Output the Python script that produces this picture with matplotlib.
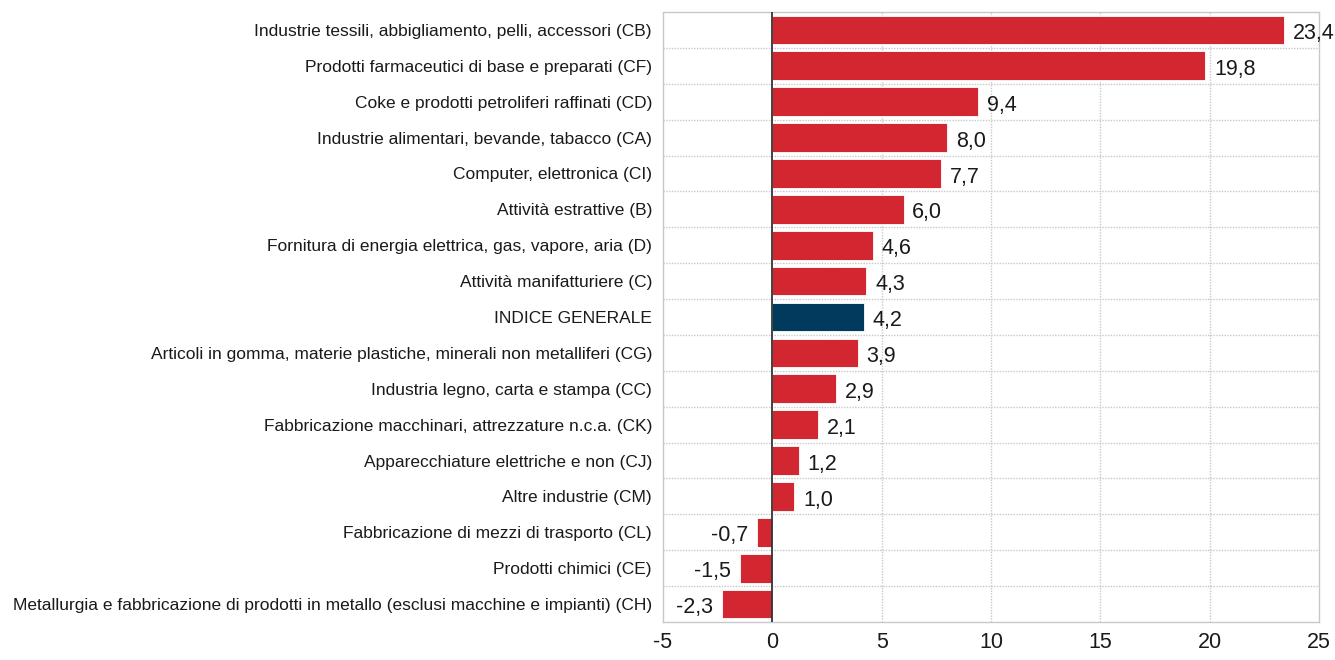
import matplotlib
matplotlib.use("Agg")
import matplotlib.pyplot as plt
from matplotlib import font_manager

categories = [
    "Industrie tessili, abbigliamento, pelli, accessori (CB)",
    "Prodotti farmaceutici di base e preparati (CF)",
    "Coke e prodotti petroliferi raffinati (CD)",
    "Industrie alimentari, bevande, tabacco (CA)",
    "Computer, elettronica (CI)",
    "Attività estrattive (B)",
    "Fornitura di energia elettrica, gas, vapore, aria (D)",
    "Attività manifatturiere (C)",
    "INDICE GENERALE",
    "Articoli in gomma, materie plastiche, minerali non metalliferi (CG)",
    "Industria legno, carta e stampa (CC)",
    "Fabbricazione macchinari, attrezzature n.c.a. (CK)",
    "Apparecchiature elettriche e non (CJ)",
    "Altre industrie (CM)",
    "Fabbricazione di mezzi di trasporto (CL)",
    "Prodotti chimici (CE)",
    "Metallurgia e fabbricazione di prodotti in metallo (esclusi macchine e impianti) (CH)",
]
values = [23.4, 19.8, 9.4, 8.0, 7.7, 6.0, 4.6, 4.3, 4.2, 3.9, 2.9, 2.1, 1.2, 1.0, -0.7, -1.5, -2.3]
xticks = [-5, 0, 5, 10, 15, 20, 25]

names = {f.name for f in font_manager.fontManager.ttflist}
fam = "Liberation Sans Narrow" if "Liberation Sans Narrow" in names else "Liberation Sans"
plt.rcParams['font.family'] = [fam, 'DejaVu Sans']

RED = "#D22630"
BLUE = "#003A5C"
GRID = "#C8C8C8"

fig = plt.figure(figsize=(13.35, 6.6), dpi=100)
ax = fig.add_axes([663/1335, 1-622/660, (1319-663)/1335, (622-12)/660])

n = len(categories)
ypos = list(range(n))
colors = [BLUE if c == "INDICE GENERALE" else RED for c in categories]
ax.barh(ypos, values, height=0.8, color=colors, edgecolor="white", linewidth=0.6, zorder=3)

ax.set_xlim(-5, 25)
ax.set_ylim(n - 0.5, -0.5)
ax.set_xticks(xticks)
ax.set_xticklabels([str(t) for t in xticks], fontsize=15.5, color="#1a1a1a")
ax.set_yticks(ypos)
ax.set_yticklabels(categories, fontsize=12.5, color="#1a1a1a")
ax.tick_params(axis='both', length=0)
ax.tick_params(axis='y', pad=8)
ax.tick_params(axis='x', pad=7)

for b in [i + 0.5 for i in range(n - 1)]:
    ax.axhline(b, color=GRID, linestyle=(0, (1, 1)), linewidth=1, zorder=1)
for t in xticks[2:-1]:
    ax.axvline(t, color=GRID, linestyle=(0, (1, 1)), linewidth=1, zorder=1)
for s in ax.spines.values():
    s.set_color(GRID)
    s.set_linestyle((0, (1, 1)))
    s.set_linewidth(1)
ax.axvline(0, color="#333333", linewidth=1.3, zorder=4)

for y, v in zip(ypos, values):
    txt = f"{v:.1f}".replace(".", ",")
    if v >= 0:
        ax.text(v + 0.4, y + 0.1, txt, ha="left", va="center", fontsize=15.5, color="#1a1a1a", zorder=5)
    else:
        ax.text(v - 0.4, y + 0.1, txt, ha="right", va="center", fontsize=15.5, color="#1a1a1a", zorder=5)

fig.savefig("out.png", dpi=100)
